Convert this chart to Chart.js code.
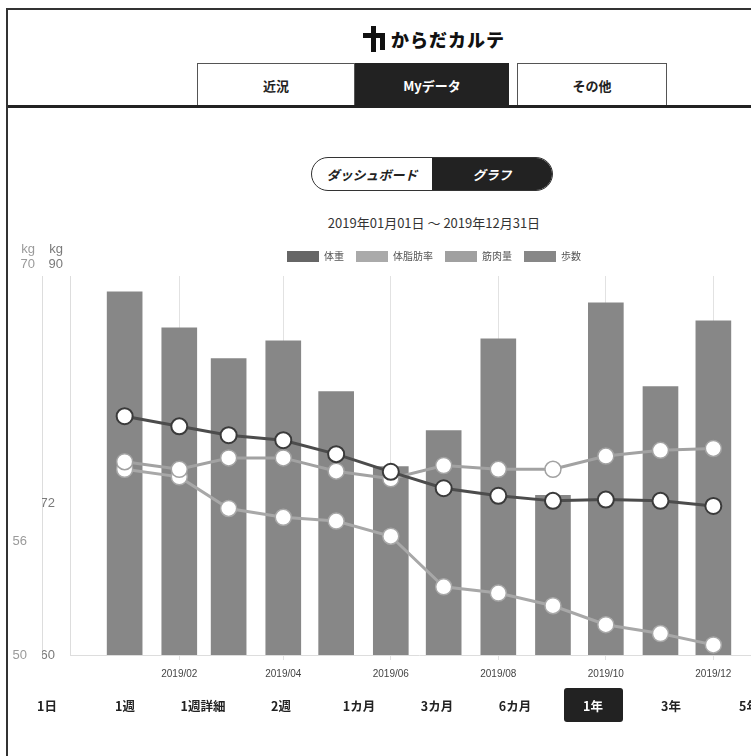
<!DOCTYPE html>
<html lang="ja">
<head>
<meta charset="utf-8">
<script src="https://cdn.jsdelivr.net/npm/chart.js@4.4.1/dist/chart.umd.min.js"></script>
<style>
  html, body { margin: 0; padding: 0; background: #fff; overflow: hidden; }
  body { width: 751px; height: 756px; position: relative; font-family: "Noto Sans CJK JP", "Noto Sans", sans-serif; color: #222; }
  .page { position: absolute; left: 6px; top: 8px; width: 860px; height: 760px; border-left: 2px solid #333; border-top: 2px solid #333; }
  .abs { position: absolute; }
  .logo { left: 355px; top: 14px; height: 30px; display: flex; align-items: center; }
  .mark { position: relative; width: 22px; height: 26px; margin-right: 6px; }
  .mark .h { position: absolute; left: 0; top: 7px; width: 22px; height: 5px; background: #111; }
  .mark .v { position: absolute; left: 8px; top: 0; width: 5px; height: 26px; background: #111; }
  .mark .r { position: absolute; left: 17px; top: 7px; width: 5px; height: 17px; background: #111; }
  .logo span { font-weight: 900; font-size: 18px; letter-spacing: 1px; color: #111; }
  .tab { top: 53px; height: 43px; box-sizing: border-box; border: 1px solid #555; border-bottom: none; background: #fff;
         display: flex; align-items: center; justify-content: center; font-size: 13px; font-weight: bold; }
  .tab.on { background: #222; color: #fff; border-color: #222; }
  .rule { left: 0; top: 95px; width: 860px; height: 3px; background: #222; }
  .toggle { left: 303px; top: 147px; width: 242px; height: 34px; box-sizing: border-box; border: 1.5px solid #333; border-radius: 17px; overflow: hidden; display: flex; }
  .toggle div { flex: 1; display: flex; align-items: center; justify-content: center; font-size: 13px; font-weight: bold; font-style: italic; }
  .toggle .on { background: #222; color: #fff; }
  .range { left: 0; width: 852px; top: 203px; text-align: center; font-size: 13px; color: #333; }
  #wrap { position: absolute; left: 2px; top: 229px; }
  .btns { left: 0; top: 678px; display: flex; }
  .btns div { width: 78px; height: 34px; display: flex; align-items: center; justify-content: center; font-size: 12.5px; font-weight: bold; }
  .btns div.on span { background: #222; color: #fff; border-radius: 3px; width: 59px; height: 34px; display: flex; align-items: center; justify-content: center; }
</style>
</head>
<body>
<div class="page">
  <div class="abs logo"><div class="mark"><div class="h"></div><div class="v"></div><div class="r"></div></div><span>からだカルテ</span></div>
  <div class="abs tab" style="left:189px;width:158px;">近況</div>
  <div class="abs tab on" style="left:347px;width:154px;">Myデータ</div>
  <div class="abs tab" style="left:509px;width:150px;">その他</div>
  <div class="abs rule"></div>
  <div class="abs toggle"><div>ダッシュボード</div><div class="on">グラフ</div></div>
  <div class="abs range">2019年01月01日 ～ 2019年12月31日</div>
  <div id="wrap"><canvas id="chart" width="848" height="453"></canvas></div>
  <div class="abs btns">
    <div>1日</div><div>1週</div><div>1週詳細</div><div>2週</div><div>1カ月</div>
    <div>3カ月</div><div>6カ月</div><div class="on"><span>1年</span></div><div>3年</div><div>5年</div>
  </div>
</div>
<script>
// monthly data, 2019
const months = ['2019-01-01','2019-02-01','2019-03-01','2019-04-01','2019-05-01','2019-06-01',
                '2019-07-01','2019-08-01','2019-09-01','2019-10-01','2019-11-01','2019-12-01'];
const weight = [78.9, 78.1, 77.4, 77.0, 75.9, 74.5, 73.2, 72.6, 72.2, 72.3, 72.2, 71.8];
const bodyFat = [24.7, 24.1, 21.6, 20.9, 20.6, 19.4, 15.4, 14.9, 13.9, 12.4, 11.7, 10.8];
const muscle = [60.2, 59.8, 60.4, 60.4, 59.7, 59.3, 60.0, 59.8, 59.8, 60.5, 60.8, 60.9];
const steps = [9580, 8630, 7820, 8290, 6950, 4970, 5920, 8340, 4210, 9290, 7080, 8820];

const xTickDates = ['2019-02-01','2019-04-01','2019-06-01','2019-08-01','2019-10-01','2019-12-01'];
const xTickLabels = ['2019/02','2019/04','2019/06','2019/08','2019/10','2019/12'];
const muscleTicks = [50, 56, 70];
const weightTicks = [60, 72, 90];

// linear x axis in days since 2018-12-01 (no date adapter available)
const origin = Date.UTC(2018, 11, 1);
const dayOf = s => { const [y, m, d] = s.split('-').map(Number); return (Date.UTC(y, m - 1, d) - origin) / 86400000; };
const xs = months.map(dayOf);
const xTicks = xTickDates.map(dayOf);
const pts = arr => arr.map((v, i) => ({ x: xs[i], y: v }));

const tickFont = { size: 13, family: '"Liberation Sans", Arial, sans-serif' };

// "kg" + top value drawn above each visible y axis
const axisTop = {
  id: 'axisTop',
  beforeLayout(chart) {
    const lg = chart.legend;
    if (lg && !lg._padded) {
      const fit = lg.fit;
      lg.fit = function () { fit.call(this); this.height += 4; };
      lg._padded = true;
    }
  },
  afterDraw(chart) {
    const ctx = chart.ctx;
    ctx.save();
    ctx.font = '13px "Liberation Sans", Arial, sans-serif';
    ctx.textAlign = 'right';
    ctx.textBaseline = 'middle';
    [['yMuscle', '#9a9a9a'], ['yWeight', '#7a7a7a']].forEach(([id, col]) => {
      const s = chart.scales[id];
      const y = s.getPixelForValue(s.max);
      ctx.fillStyle = col;
      ctx.fillText('kg', s.right - 7, y - 27);
      ctx.fillText(String(s.max), s.right - 7, y - 12);
    });
    ctx.restore();
  }
};

new Chart(document.getElementById('chart'), {
  type: 'bar',
  data: {
    datasets: [
      { type: 'line', label: '体重', data: pts(weight), yAxisID: 'yWeight', order: 1,
        borderColor: '#4c4c4c', backgroundColor: '#666666', borderWidth: 3,
        pointRadius: 8, pointBackgroundColor: '#fff', pointBorderColor: '#3a3a3a', pointBorderWidth: 2 },
      { type: 'line', label: '体脂肪率', data: pts(bodyFat), yAxisID: 'yFat', order: 3,
        borderColor: '#a8a8a8', backgroundColor: '#aaaaaa', borderWidth: 3,
        pointRadius: 8, pointBackgroundColor: '#fff', pointBorderColor: '#a8a8a8', pointBorderWidth: 1.5 },
      { type: 'line', label: '筋肉量', data: pts(muscle), yAxisID: 'yMuscle', order: 2,
        borderColor: '#a2a2a2', backgroundColor: '#a0a0a0', borderWidth: 3,
        pointRadius: 8, pointBackgroundColor: '#fff', pointBorderColor: '#a2a2a2', pointBorderWidth: 1.5 },
      { type: 'bar', label: '歩数', data: pts(steps), yAxisID: 'ySteps', order: 10,
        backgroundColor: '#878787', borderWidth: 0, barThickness: 35 }
    ]
  },
  options: {
    responsive: false,
    animation: false,
    layout: { padding: { left: 0, right: 0, top: 0, bottom: 4 } },
    plugins: {
      tooltip: { enabled: false },
      legend: {
        labels: {
          boxWidth: 32, boxHeight: 11, padding: 12, color: '#555',
          font: { size: 10, family: '"Noto Sans CJK JP", sans-serif' },
          sort: (a, b) => a.datasetIndex - b.datasetIndex,
          generateLabels: chart => Chart.defaults.plugins.legend.labels.generateLabels(chart)
            .map(l => Object.assign(l, { lineWidth: 0, strokeStyle: l.fillStyle }))
        }
      }
    },
    scales: {
      x: {
        type: 'linear', min: 0, max: dayOf('2020-01-01'), offset: false,
        afterBuildTicks: s => { s.ticks = xTicks.map(v => ({ value: v })); },
        ticks: { callback: (v) => xTickLabels[xTicks.indexOf(v)], color: '#444', maxRotation: 0,
                 font: { size: 10, family: '"Liberation Sans", Arial, sans-serif' }, padding: 8 },
        grid: { color: '#e2e2e2', tickLength: 5, offset: false },
        border: { color: '#dddddd' }
      },
      yMuscle: {
        position: 'left', weight: 2, min: 50, max: 70,
        afterBuildTicks: s => { s.ticks = muscleTicks.slice(0, -1).map(v => ({ value: v })); },
        afterFit: s => { s.width = 32; },
        ticks: { color: '#9a9a9a', padding: 7, font: tickFont },
        grid: { display: false },
        border: { display: true, color: '#dddddd' }
      },
      yWeight: {
        position: 'left', weight: 1, min: 60, max: 90,
        afterBuildTicks: s => { s.ticks = weightTicks.slice(0, -1).map(v => ({ value: v })); },
        afterFit: s => { s.width = 28; },
        ticks: { color: '#7a7a7a', padding: 7, font: tickFont },
        grid: { display: false },
        border: { display: true, color: '#dddddd' }
      },
      yFat: { display: false, min: 10, max: 40 },
      // steps axis kept on the right, off screen, with no visible ticks
      ySteps: {
        position: 'right', min: 0, max: 10000,
        afterFit: s => { s.width = 90; },
        ticks: { display: false },
        grid: { display: false },
        border: { display: false }
      }
    }
  },
  plugins: [axisTop]
});
</script>
</body>
</html>
